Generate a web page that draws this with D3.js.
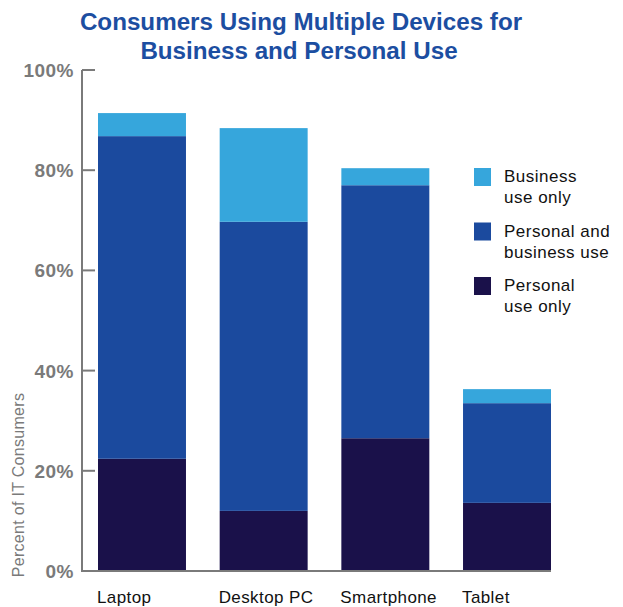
<!DOCTYPE html>
<html>
<head>
<meta charset="utf-8">
<style>
  body { margin: 0; background: #fff; }
  svg text { font-family: "Liberation Sans", Arial, Helvetica, sans-serif; }
  .title { fill: #1c4ea1; font-weight: bold; font-size: 24.2px; text-anchor: middle; }
  .ytick { fill: #7a7a7a; font-weight: bold; font-size: 19px; letter-spacing: 0.5px; text-anchor: end; }
  .ylabel { fill: #7a7a7a; font-size: 16px; letter-spacing: 0.3px; text-anchor: middle; }
  .xlabel { fill: #111; font-size: 17px; letter-spacing: 0.4px; }
  .legend text { fill: #111; font-size: 17px; letter-spacing: 0.5px; }
</style>
</head>
<body>
<script src="https://d3js.org/d3.v7.min.js"></script>
<script>
var devices = ["Laptop", "Desktop PC", "Smartphone", "Tablet"];
var personalOnly = [22.4, 12.0, 26.5, 13.6];
var personalAndBusiness = [64.4, 57.7, 50.5, 19.9];
var businessOnly = [4.6, 18.7, 3.4, 2.8];
var yTicks = [0, 20, 40, 60, 80, 100];

var seriesKeys = ["personal", "both", "business"];
var seriesColors = { personal: "#1a114a", both: "#1b4a9e", business: "#36a6dc" };
var legendItems = [
  { key: "business", lines: ["Business", "use only"] },
  { key: "both", lines: ["Personal and", "business use"] },
  { key: "personal", lines: ["Personal", "use only"] }
];

var rows = devices.map(function(d, i) {
  return { device: d, personal: personalOnly[i], both: personalAndBusiness[i], business: businessOnly[i] };
});

var width = 623, height = 607;
var svg = d3.select("body").append("svg")
  .attr("width", width)
  .attr("height", height);

var x = d3.scaleBand().domain(devices).range([98, 551]).paddingInner(0.277).paddingOuter(0);
var y = d3.scaleLinear().domain([0, 100]).range([571, 70]);

var stack = d3.stack().keys(seriesKeys)(rows);

svg.selectAll("g.series")
  .data(stack)
  .enter().append("g")
  .attr("class", "series")
  .attr("fill", function(s) { return seriesColors[s.key]; })
  .selectAll("rect")
  .data(function(s) { return s; })
  .enter().append("rect")
  .attr("x", function(d) { return x(d.data.device); })
  .attr("width", x.bandwidth())
  .attr("y", function(d) { return y(d[1]); })
  .attr("height", function(d) { return y(d[0]) - y(d[1]); });

// axes
var axisX = 82;
svg.append("line")
  .attr("x1", axisX).attr("x2", axisX)
  .attr("y1", y(100)).attr("y2", y(0))
  .attr("stroke", "#7a7a7a").attr("stroke-width", 2);
svg.append("line")
  .attr("x1", axisX - 1).attr("x2", 551)
  .attr("y1", y(0)).attr("y2", y(0))
  .attr("stroke", "#7a7a7a").attr("stroke-width", 2);

svg.selectAll("line.tick")
  .data(yTicks.slice(1))
  .enter().append("line")
  .attr("class", "tick")
  .attr("x1", axisX).attr("x2", axisX + 13)
  .attr("y1", function(d) { return y(d); })
  .attr("y2", function(d) { return y(d); })
  .attr("stroke", "#7a7a7a").attr("stroke-width", 2);

svg.selectAll("text.ytick")
  .data(yTicks)
  .enter().append("text")
  .attr("class", "ytick")
  .attr("x", 74)
  .attr("y", function(d) { return y(d) + 7; })
  .text(function(d) { return d + "%"; });

svg.append("text")
  .attr("class", "ylabel")
  .attr("transform", "translate(24," + 485 + ") rotate(-90)")
  .text("Percent of IT Consumers");

svg.selectAll("text.xlabel")
  .data(devices)
  .enter().append("text")
  .attr("class", "xlabel")
  .attr("x", function(d) { return x(d) - 1; })
  .attr("y", 603)
  .text(function(d) { return d; });

// title
svg.append("text").attr("class", "title").attr("x", 301).attr("y", 30)
  .text("Consumers Using Multiple Devices for");
svg.append("text").attr("class", "title").attr("x", 299).attr("y", 59)
  .text("Business and Personal Use");

// legend
var legend = svg.append("g").attr("class", "legend");
legendItems.forEach(function(item, i) {
  var top = 168 + i * 54.5;
  legend.append("rect")
    .attr("x", 474).attr("y", top)
    .attr("width", 17).attr("height", 18)
    .attr("fill", seriesColors[item.key]);
  item.lines.forEach(function(line, j) {
    legend.append("text")
      .attr("x", 504)
      .attr("y", top + 14 + j * 21)
      .text(line);
  });
});
</script>
</body>
</html>
